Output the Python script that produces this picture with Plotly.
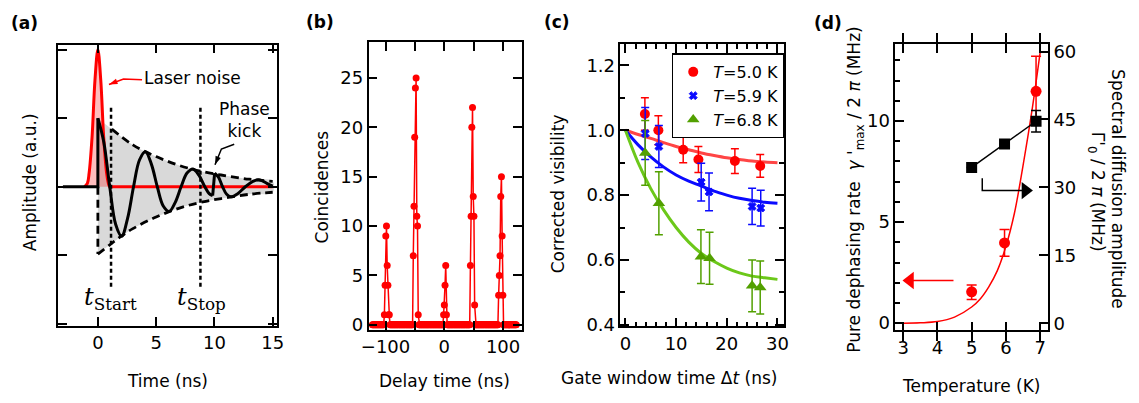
import plotly.graph_objects as go

W, H = 1139, 403
FONT = "DejaVu Sans"
SERIF = "DejaVu Serif"
FS = 17

# ---------------- Panel (a): schematic signals ----------------
pulse_t = [-1.15, -0.9, -0.75, -0.5, -0.25, 0.0, 0.25, 0.5, 0.75, 0.9, 1.0]
pulse_amp = [0.0, 0.05, 0.2, 0.72, 1.55, 2.0, 1.55, 0.72, 0.2, 0.05, 0.0]
red_base_t = [0.9, 15.0]
red_base_amp = [0.0, 0.0]
black_base_t = [-3.0, 0.0, 0.0]
black_base_amp = [0.0, 0.0, 1.0]
osc1_t = [0.0, 0.51, 1.02, 1.53, 2.04, 2.55, 3.06, 3.57, 4.08, 4.59, 5.1, 5.61,
          6.12, 6.63, 7.14, 7.65, 8.16, 8.67, 9.18, 9.55, 9.85]
osc1_amp = [1.0, 0.65, 0.0, -0.55, -0.72, -0.46, 0.0, 0.39, 0.51, 0.33, 0.0, -0.28,
            -0.36, -0.23, 0.0, 0.2, 0.26, 0.17, 0.0, -0.1, -0.13]
kick_t = [9.85, 10.02]
kick_amp = [-0.13, 0.2]
osc2_t = [10.02, 10.35, 10.7, 11.05, 11.4, 12.0, 12.65, 13.3, 13.9, 14.5, 15.0]
osc2_amp = [0.2, 0.14, 0.0, -0.11, -0.145, -0.1, 0.0, 0.08, 0.1, 0.05, 0.01]
env_up_t = [0.0, 1.2, 3.0, 5.0, 7.0, 9.0, 11.0, 13.0, 15.0]
env_up = [1.0, 0.84, 0.61, 0.44, 0.31, 0.22, 0.16, 0.11, 0.08]
env_lo_t = [0.0, 1.0, 2.0, 3.0, 5.0, 7.0, 9.0, 11.0, 13.0, 15.0]
env_lo = [-0.98, -0.85, -0.72, -0.61, -0.44, -0.31, -0.22, -0.16, -0.11, -0.08]
gate_t = [1.13, 8.8]          # t_Start, t_Stop
gate_span = [1.15, -1.5]

# ---------------- Panel (b): coincidence histogram ----------------
BIN_NS = 1.2
FIRST_BIN = -122.4
N_BINS = 205
peak_starts = [-102.0, -53.0, -1.6, 44.6, 92.4]
peak_counts = [
    [1, 4, 9, 10, 6, 4, 1, 1],
    [7, 12, 19, 24, 25, 11, 10, 1],
    [1, 2, 4, 6, 1],
    [6, 11, 20, 22, 13, 11, 2],
    [3, 5, 7, 13, 15, 9, 3],
]
delay_ns = [round(FIRST_BIN + i * BIN_NS, 2) for i in range(N_BINS)]
counts = [0] * N_BINS
for start, vals in zip(peak_starts, peak_counts):
    i0 = int(round((start - FIRST_BIN) / BIN_NS))
    for k, v in enumerate(vals):
        counts[i0 + k] = v

# ---------------- Panel (c): visibility vs gate window ----------------
gate_red = [3.84, 6.5, 11.4, 14.4, 21.6, 26.6]
vis_red = [1.05, 1.0, 0.94, 0.91, 0.905, 0.89]
err_red = [0.05, 0.045, 0.04, 0.04, 0.038, 0.035]
gate_blue = [3.9, 6.6, 14.95, 16.5, 25.0, 26.7]
vis_blue = [0.99, 0.95, 0.84, 0.81, 0.765, 0.76]
err_blue = [0.08, 0.065, 0.058, 0.058, 0.056, 0.055]
gate_green = [3.9, 6.6, 14.9, 16.6, 25.0, 26.6]
vis_green = [0.93, 0.775, 0.61, 0.605, 0.52, 0.515]
err_green = [0.1, 0.097, 0.083, 0.08, 0.08, 0.082]
fit_gate = [0, 2.5, 5, 7.5, 10, 12.5, 15, 17.5, 20, 22.5, 25, 27.5, 30]
fit_red = [1.0, 0.987, 0.975, 0.962, 0.95, 0.94, 0.93, 0.922, 0.915, 0.91, 0.905, 0.902, 0.9]
fit_blue = [1.0, 0.955, 0.918, 0.887, 0.862, 0.843, 0.828, 0.812, 0.8, 0.79, 0.783, 0.778, 0.775]
fit_green = [1.0, 0.9, 0.82, 0.755, 0.7, 0.655, 0.62, 0.595, 0.575, 0.56, 0.55, 0.545, 0.54]
legend_labels = ["<i>T</i>=5.0 K", "<i>T</i>=5.9 K", "<i>T</i>=6.8 K"]

# ---------------- Panel (d): temperature dependence ----------------
temp_K = [5.0, 5.96, 6.88]
dephasing = [1.55, 3.97, 11.47]
deph_err_plus = [0.34, 0.67, 1.73]
deph_err_minus = [0.38, 0.66, 1.55]
diffusion = [34.4, 39.6, 44.6]
diff_err = [0.0, 0.0, 2.4]
fit_temp = [3.0, 3.5, 4.0, 4.5, 5.0, 5.25, 5.5, 5.75, 6.0, 6.25, 6.5, 6.75, 7.0]
fit_deph = [0.0, 0.02, 0.08, 0.3, 0.8, 1.2, 1.8, 2.6, 3.8, 5.45, 7.8, 10.4, 13.4]

RED = "#ff0000"
BLUE = "#0a0aff"
GREEN_M = "#52a000"
GREEN_L = "#6cc81a"

fig = go.Figure()


def line(x, y, xa, ya, color, width, dash=None, shape="linear", **kw):
    fig.add_trace(go.Scatter(x=x, y=y, mode="lines", line=dict(color=color, width=width, dash=dash, shape=shape),
                             xaxis=xa, yaxis=ya, showlegend=False, hoverinfo="skip", **kw))


def arrow(x, y, xa, ya, color, size, symbol="arrow", angleref="previous"):
    # line from tail (first point) to head (last point) with a head marker
    fig.add_trace(go.Scatter(x=x, y=y, mode="lines+markers", line=dict(color=color, width=1.5),
                             marker=dict(symbol=symbol, size=[0] * (len(x) - 1) + [size], color=color,
                                         angleref=angleref, opacity=1, line=dict(width=0)),
                             xaxis=xa, yaxis=ya, showlegend=False, hoverinfo="skip"))


# ---- (a)
fig.add_trace(go.Scatter(x=env_up_t + env_lo_t[::-1], y=env_up + env_lo[::-1], fill="toself",
                         fillcolor="#d9d9d9", line=dict(width=0, shape="spline"), mode="lines",
                         xaxis="x", yaxis="y", showlegend=False, hoverinfo="skip"))
line(pulse_t, pulse_amp, "x", "y", RED, 3, shape="spline", fill="tozeroy", fillcolor="rgba(255,0,0,0.26)")
line(red_base_t, red_base_amp, "x", "y", RED, 3)
line(env_up_t[1:], env_up[1:], "x", "y", "black", 2.8, dash="8px,5px", shape="spline")
line(env_lo_t, env_lo, "x", "y", "black", 2.8, dash="8px,5px", shape="spline")
line([env_lo_t[0], env_lo_t[0]], [0, env_lo[0]], "x", "y", "black", 2.8, dash="8px,5px")
for gt in gate_t:
    line([gt, gt], gate_span, "x", "y", "black", 2.5, dash="4px,3px")
line(black_base_t, black_base_amp, "x", "y", "black", 3)
line(osc1_t, osc1_amp, "x", "y", "black", 3, shape="spline")
line(kick_t, kick_amp, "x", "y", "black", 3)
line(osc2_t, osc2_amp, "x", "y", "black", 3, shape="spline")
arrow([3.79, 2.2, 0.95], [1.56, 1.57, 1.49], "x", "y", RED, 9)
arrow([11.7, 10.6, 10.05], [0.62, 0.55, 0.32], "x", "y", "black", 9)

# ---- (b)
fig.add_trace(go.Scatter(x=delay_ns, y=counts, mode="lines+markers",
                         line=dict(color=RED, width=1.5), marker=dict(color=RED, size=7),
                         xaxis="x2", yaxis="y2", showlegend=False))

# ---- (c)
for fx, col in [(fit_red, "#ff4545"), (fit_blue, BLUE), (fit_green, GREEN_L)]:
    line(fit_gate, fx, "x3", "y3", col, 3, shape="spline")
for gx, vy, ey, col, sym, sz, lab in [
    (gate_red, vis_red, err_red, RED, "circle", 10, legend_labels[0]),
    (gate_blue, vis_blue, err_blue, BLUE, "x", 7, legend_labels[1]),
    (gate_green, vis_green, err_green, GREEN_M, "triangle-up", 11, legend_labels[2]),
]:
    fig.add_trace(go.Scatter(x=gx, y=vy, mode="markers", name=lab,
                             marker=dict(color=col, symbol=sym, size=sz, line=dict(width=1 if sym == "x" else 0, color=col)),
                             error_y=dict(type="data", array=ey, color=col, thickness=1.5, width=4),
                             xaxis="x3", yaxis="y3", showlegend=True))

# ---- (d)
line(fit_temp, fit_deph, "x4", "y4", RED, 1.5, shape="spline")
fig.add_trace(go.Scatter(x=temp_K, y=dephasing, mode="markers", marker=dict(color=RED, size=11),
                         error_y=dict(type="data", symmetric=False, array=deph_err_plus, arrayminus=deph_err_minus,
                                      color=RED, thickness=1.5, width=5),
                         xaxis="x4", yaxis="y4", showlegend=False))
fig.add_trace(go.Scatter(x=temp_K, y=diffusion, mode="lines+markers", line=dict(color="black", width=1.5),
                         marker=dict(color="black", symbol="square", size=11),
                         error_y=dict(type="data", array=diff_err, color="black", thickness=1.5, width=5),
                         xaxis="x4", yaxis="y5", showlegend=False))
arrow([5.31, 5.31, 6.57], [7.17, 6.56, 6.56], "x4", "y4", "black", 15, symbol="triangle-right", angleref="up")
arrow([4.47, 3.2], [2.11, 2.11], "x4", "y4", RED, 15, symbol="triangle-left", angleref="up")


def px2x(p):
    return p / W


def px2y(p):
    return 1 - p / H


def axis(**kw):
    d = dict(showline=True, linecolor="black", linewidth=1.5, mirror="allticks", ticks="inside",
             ticklen=9, tickwidth=1.5, tickcolor="black", showgrid=False, zeroline=False,
             tickfont=dict(family=FONT, size=FS + 1, color="black"))
    d.update(kw)
    return d


layout = dict(
    width=W, height=H, margin=dict(l=0, r=0, t=0, b=0),
    plot_bgcolor="white", paper_bgcolor="white",
    font=dict(family=FONT, size=FS, color="black"),
    xaxis=axis(domain=[px2x(52), px2x(273)], range=[-3.39, 15.34], tickvals=[0, 5, 10, 15], anchor="y"),
    yaxis=axis(domain=[px2y(333), px2y(43)], range=[-2.03, 2.07], tickvals=[-2, -1, 0, 1, 2],
               showticklabels=False, anchor="x"),
    xaxis2=axis(domain=[px2x(366), px2x(521)], range=[-129, 131.5], tickvals=[-100, 0, 100], anchor="y2",
                minor=dict(dtick=50, tick0=0, ticklen=9, ticks="inside", tickcolor="black", tickwidth=1.5)),
    yaxis2=axis(domain=[px2y(336.7), px2y(40.7)], range=[-0.5, 28.6], tickvals=[0, 5, 10, 15, 20, 25], anchor="x2"),
    xaxis3=axis(domain=[px2x(621), px2x(786.7)], range=[-1, 31.3], tickvals=[0, 10, 20, 30], anchor="y3",
                minor=dict(dtick=2, ticklen=5, ticks="inside", tickcolor="black", tickwidth=1.5)),
    yaxis3=axis(domain=[px2y(333.3), px2y(42.3)], range=[0.395, 1.266], tickvals=[0.4, 0.6, 0.8, 1.0, 1.2],
                ticktext=["0.4", "0.6", "0.8", "1.0", "1.2"], anchor="x3",
                minor=dict(dtick=0.1, tick0=0, ticklen=5, ticks="inside", tickcolor="black", tickwidth=1.5)),
    xaxis4=axis(domain=[px2x(899.3), px2x(1054)], range=[2.77, 7.23], tickvals=[3, 4, 5, 6, 7], anchor="y4"),
    yaxis4=axis(domain=[px2y(337.3), px2y(42.3)], range=[-0.35, 13.81], tickvals=[0, 5, 10], mirror=False,
                anchor="x4", minor=dict(dtick=1, tick0=0, ticklen=5, ticks="inside", tickcolor="black", tickwidth=1.5)),
    yaxis5=axis(range=[-1.56, 61.65], tickvals=[0, 15, 30, 45, 60], overlaying="y4", side="right",
                anchor="x4", mirror=False),
    legend=dict(x=px2x(673), y=px2y(52), xanchor="left", yanchor="top", bgcolor="white",
                bordercolor="black", borderwidth=1.5, font=dict(family=FONT, size=16, color="black"),
                tracegroupgap=0, itemwidth=30),
    showlegend=True,
)

ann = []


def text(s, x, y, size=FS, angle=0, bold=False, family=FONT, color="black", align="center"):
    ann.append(dict(text=("<b>%s</b>" % s) if bold else s, x=px2x(x), y=px2y(y), xref="paper", yref="paper",
                    showarrow=False, textangle=angle, xanchor="center", yanchor="middle", align=align,
                    font=dict(family=family, size=size, color=color)))


# panel labels
text("(a)", 18, 21, bold=True)
text("(b)", 317, 20, bold=True)
text("(c)", 557, 20, bold=True)
text("(d)", 831, 21, bold=True)
# axis titles
text("Amplitude (a.u.)", 24, 185, angle=-90)
text("Time (ns)", 163, 390)
text("Coincidences", 319, 190, angle=-90)
text("Delay time (ns)", 443, 390)
text("Corrected visibility", 558, 197, angle=-90)
text("Gate window time \u0394<i>t</i> (ns)", 670, 387)
text("Pure dephasing rate  <i>\u03b3</i> '<sub>max</sub> / 2 <i>\u03c0</i> (MHz)", 859, 192, angle=-90)
text("Temperature (K)", 977, 395)
text("Spectral diffusion amplitude", 1125, 192, angle=90)
text("\u0393'<sub>0</sub> / 2 <i>\u03c0</i> (MHz)", 1103, 195, angle=90)
# panel (a) labels
text("Laser noise", 188, 77)
text("Phase<br>kick", 240, 121)
text("<i>t</i><sub>Start</sub>", 105, 305, size=24, family=SERIF)
text("<i>t</i><sub>Stop</sub>", 197, 305, size=24, family=SERIF)

layout["annotations"] = ann
fig.update_layout(**layout)
fig.write_html("out.html", config={"displayModeBar": False},
               post_script="document.body.style.margin='0';document.body.style.overflow='hidden';")
